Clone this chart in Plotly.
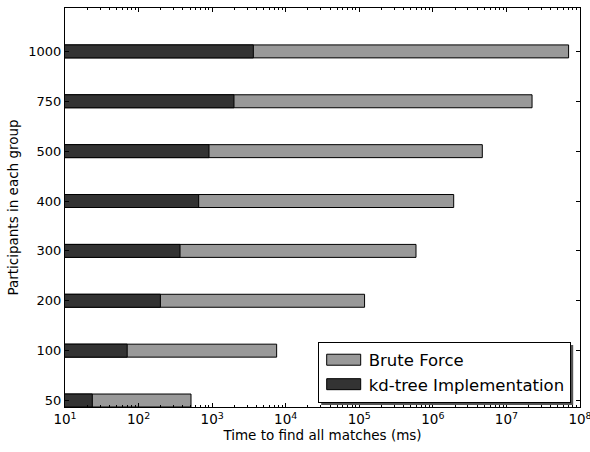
import plotly.graph_objects as go

groups = ["50", "100", "200", "300", "400", "500", "750", "1000"]
brute_force_ms = [516, 7530, 118000, 590000, 1920000, 4700000, 22300000, 70000000]
kdtree_ms = [23.5, 70, 198, 366, 656, 906, 1980, 3630]
x_tick_vals = [1e1, 1e2, 1e3, 1e4, 1e5, 1e6, 1e7, 1e8]
x_tick_text = ["10<sup>1</sup>", "10<sup>2</sup>", "10<sup>3</sup>", "10<sup>4</sup>",
               "10<sup>5</sup>", "10<sup>6</sup>", "10<sup>7</sup>", "10<sup>8</sup>"]

W, H = 590, 452
L, R, T, B = 65, 10, 8, 45
pw, ph = W - L - R, H - T - B

FONT = "DejaVu Sans"

fig = go.Figure()
fig.add_trace(go.Bar(
    y=groups, x=brute_force_ms, orientation="h", name="Brute Force",
    width=0.26, marker=dict(color="#999999", line=dict(color="black", width=1)),
))
fig.add_trace(go.Bar(
    y=groups, x=kdtree_ms, orientation="h", name="kd-tree Implementation",
    width=0.26, marker=dict(color="#333333", line=dict(color="black", width=1)),
))

# legend box in pixels (from reference)
lx1, lyc = 570.7, 372.0
def px2x(p):
    return (p - L) / pw
def py2y(p):
    return (H - B - p) / ph

fig.update_layout(
    width=W, height=H,
    margin=dict(l=L, r=R, t=T, b=B, autoexpand=False),
    paper_bgcolor="white", plot_bgcolor="white",
    barmode="overlay",
    font=dict(family=FONT, size=13, color="black"),
    showlegend=True,
    legend=dict(
        x=px2x(lx1), y=py2y(lyc), xanchor="right", yanchor="middle",
        bgcolor="white", bordercolor="black", borderwidth=1,
        font=dict(family=FONT, size=16.5, color="black"),
        traceorder="normal", itemwidth=40, tracegroupgap=0,
    ),
    xaxis=dict(
        type="log", range=[1, 8],
        tickvals=x_tick_vals, ticktext=x_tick_text,
        ticks="inside", ticklen=4, tickcolor="black",
        showline=True, linecolor="black", linewidth=1, mirror="allticks",
        showgrid=False, zeroline=False,
        minor=dict(ticks="inside", ticklen=2, tickcolor="black", dtick="D1", showgrid=False),
        title=dict(text="Time to find all matches (ms)", font=dict(size=13.5), standoff=4),
        tickfont=dict(size=13.5),
        ticklabeloverflow="allow",
        automargin=False,
    ),
    yaxis=dict(
        type="category", range=[-0.13, 7.87],
        ticks="inside", ticklen=4, tickcolor="black",
        showline=True, linecolor="black", linewidth=1, mirror="allticks",
        showgrid=False, zeroline=False,
        title=dict(text="Participants in each group", font=dict(size=13.5), standoff=6),
        tickfont=dict(size=13),
        automargin=False,
    ),
)

# legend shadow and wide legend patches, applied to the rendered legend
post = """
document.body.style.margin = '0px';
var gd = document.getElementsByClassName('plotly-graph-div')[0];
function styleLegend() {
  var bg = gd.querySelector('.legend .bg');
  var leg = gd.querySelector('.legend');
  if (!bg || !leg) return;
  var old = gd.querySelector('.legend-shadow');
  if (old) old.remove();
  var bb = bg.getBBox();
  var ns = 'http://www.w3.org/2000/svg';
  var r = document.createElementNS(ns, 'rect');
  r.setAttribute('class', 'legend-shadow');
  r.setAttribute('x', bb.x + 3);
  r.setAttribute('y', bb.y + 3);
  r.setAttribute('width', bb.width);
  r.setAttribute('height', bb.height);
  r.setAttribute('fill', '#555555');
  leg.insertBefore(r, leg.firstChild);
  gd.querySelectorAll('.legend .legendpoints path').forEach(function (p) {
    p.setAttribute('d', 'M17,5.5H-17V-5.5H17Z');
  });
}
styleLegend();
gd.on('plotly_afterplot', styleLegend);
"""

fig.write_html("out.html", post_script=post, config={"displayModeBar": False})
